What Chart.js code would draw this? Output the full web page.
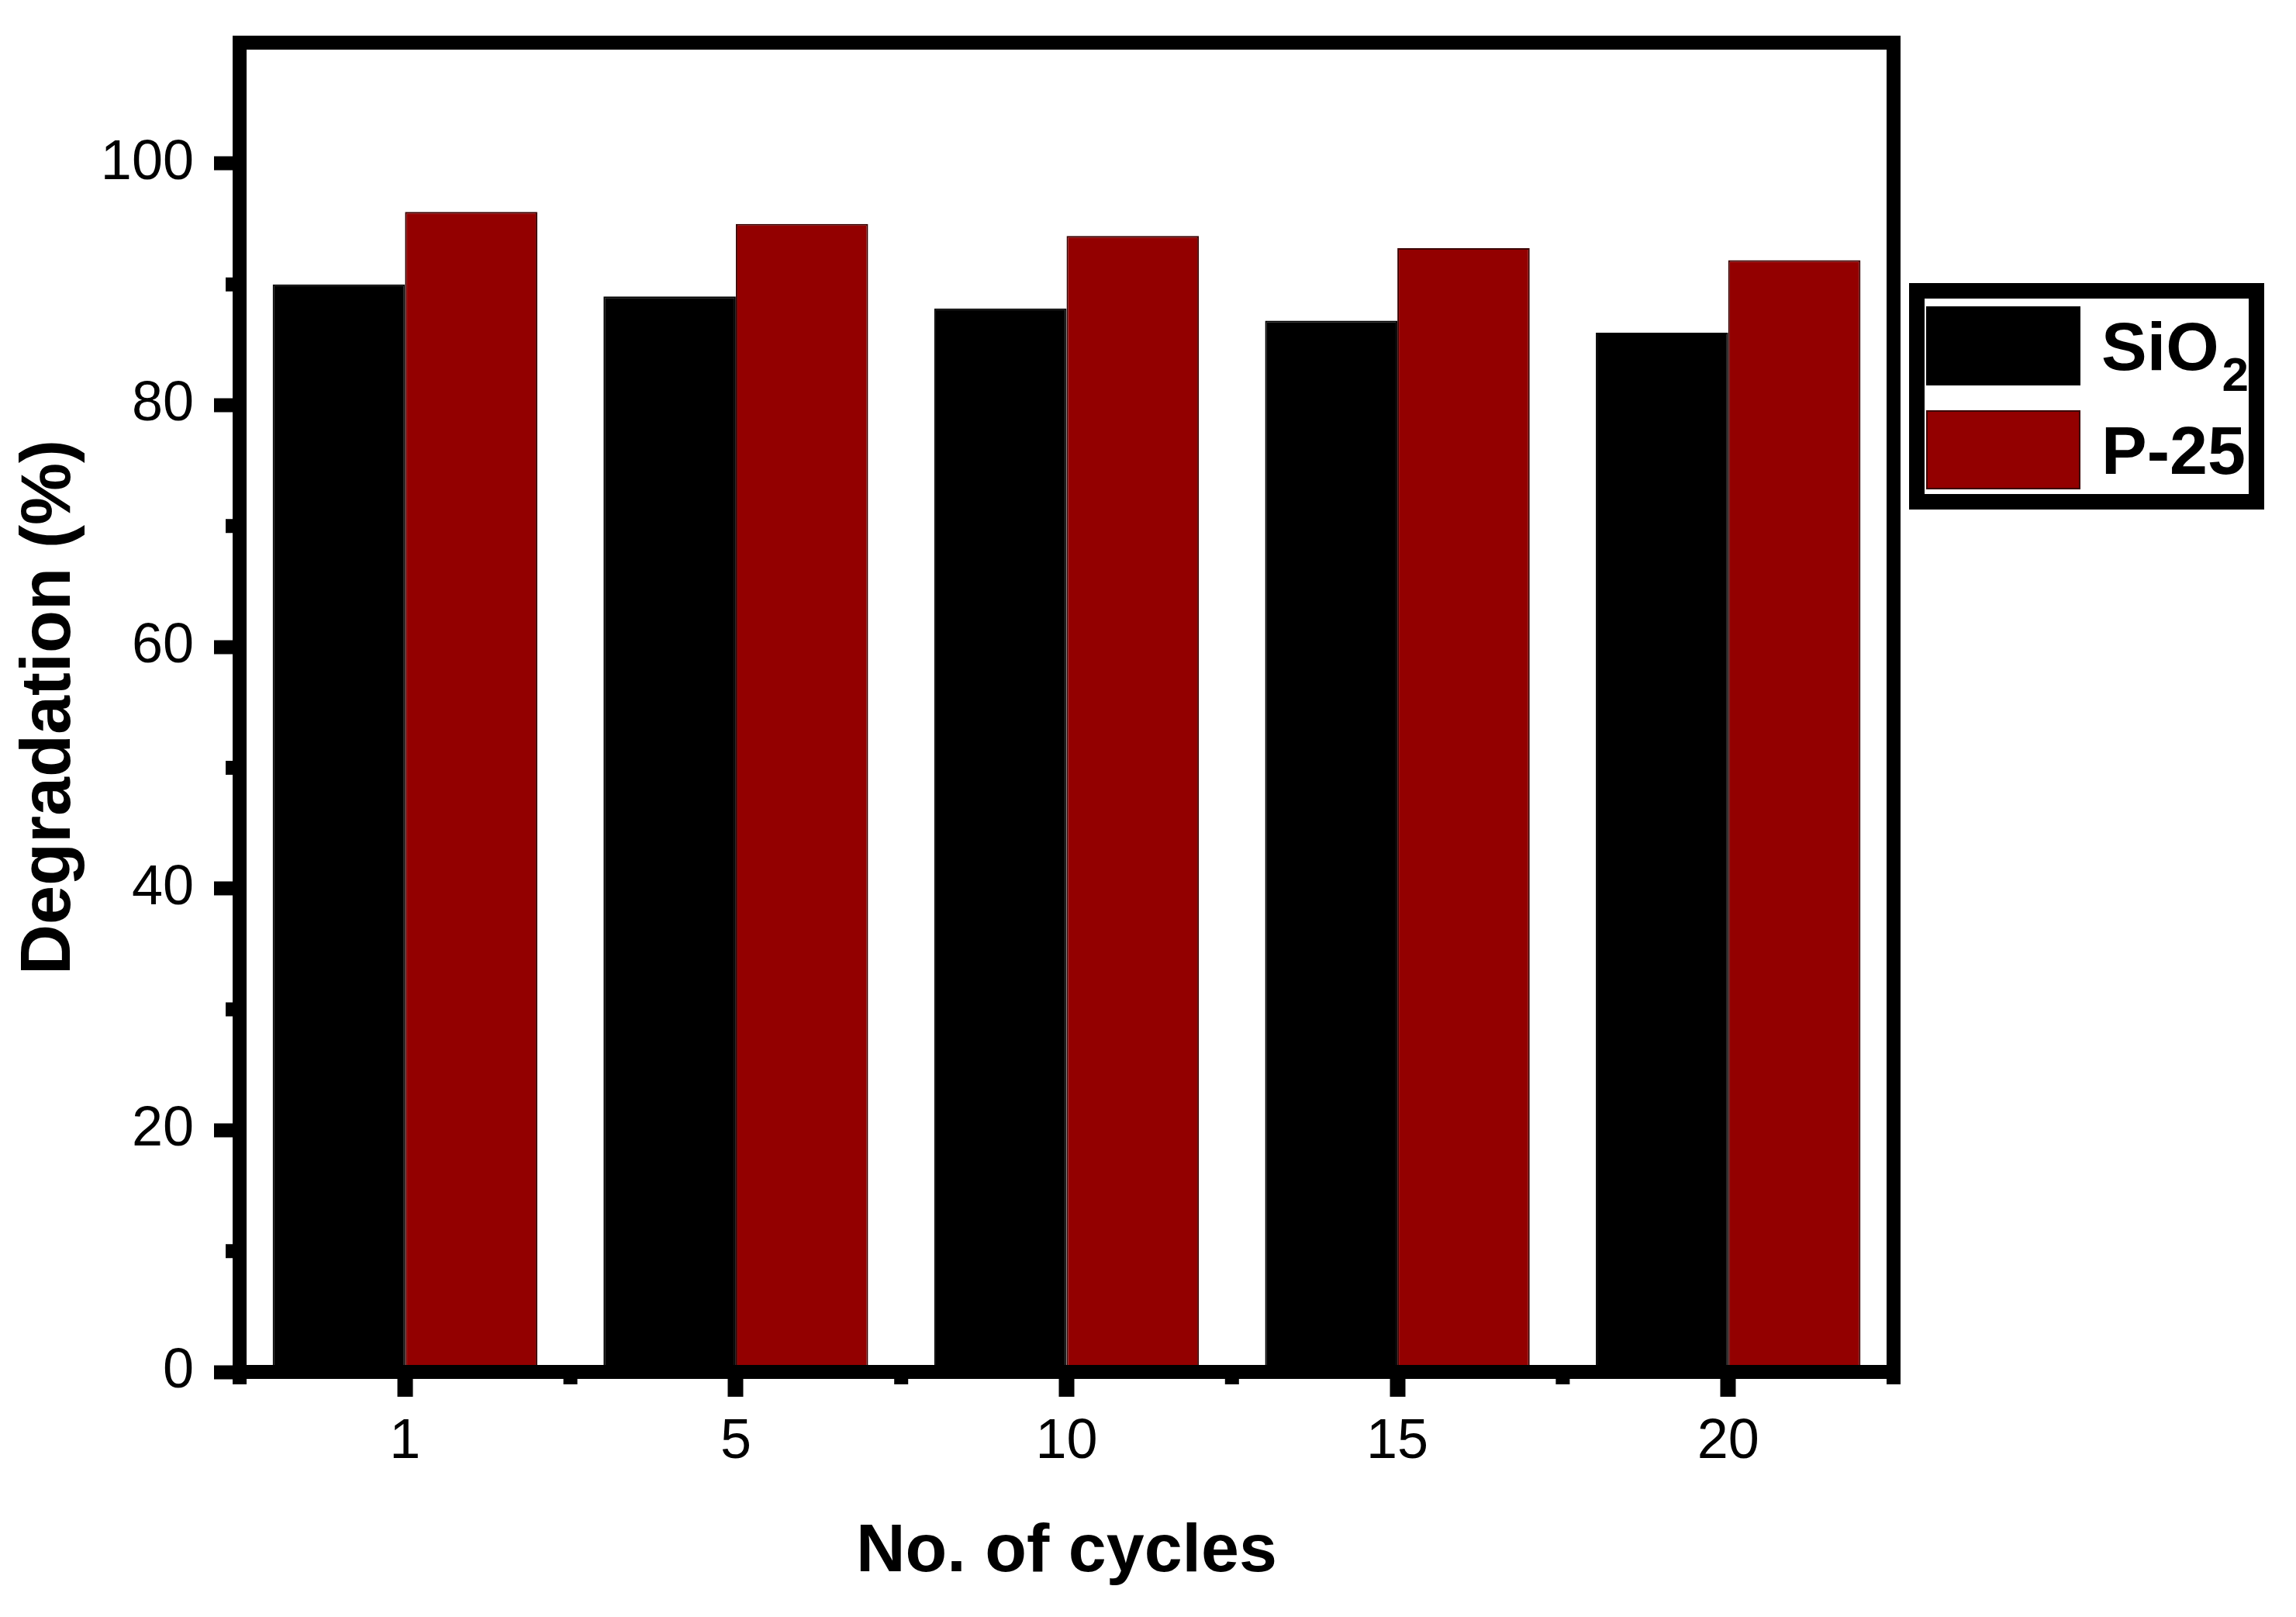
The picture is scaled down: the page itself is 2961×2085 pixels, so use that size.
<!DOCTYPE html>
<html>
<head>
<meta charset="utf-8">
<title>Degradation vs cycles</title>
<script src="https://cdn.jsdelivr.net/npm/chart.js@4.4.1/dist/chart.umd.min.js"></script>
<style>
  html, body { margin: 0; padding: 0; background: #fff; }
  #wrap { width: 2961px; height: 2085px; }
</style>
</head>
<body>
<div id="wrap"><canvas id="chart" width="2961" height="2085"></canvas></div>
<script>
// data
const cycles = ['1', '5', '10', '15', '20'];
const sio2 = [90, 89, 88, 87, 86];
const p25 = [96, 95, 94, 93, 92];
const yMinorTicks = [10, 30, 50, 70, 90];

const FONT = "'Liberation Sans', Arial, sans-serif";
const RED = '#930000';

// minor ticks + closed frame
const framePlugin = {
  id: 'frame',
  afterDraw(chart) {
    const ctx = chart.ctx;
    const a = chart.chartArea;
    const x = chart.scales.x, y = chart.scales.y;
    ctx.save();
    ctx.strokeStyle = '#000';
    ctx.lineWidth = 18;
    ctx.lineJoin = 'miter';
    ctx.strokeRect(a.left, a.top, a.right - a.left, a.bottom - a.top);

    ctx.beginPath();
    yMinorTicks.forEach(v => {
      const py = y.getPixelForValue(v);
      ctx.moveTo(a.left - 18, py);
      ctx.lineTo(a.left, py);
    });
    for (let i = 0; i <= cycles.length; i++) {
      const px = x.getPixelForValue(i - 0.5);
      ctx.moveTo(px, a.bottom);
      ctx.lineTo(px, a.bottom + 16);
    }
    ctx.stroke();
    ctx.restore();
  }
};

// boxed legend on the right, with subscript digits
const legendPlugin = {
  id: 'boxLegend',
  afterDraw(chart) {
    const ctx = chart.ctx;
    const a = chart.chartArea;
    const bx = a.right + 20, by = a.top + 310;
    ctx.save();
    ctx.strokeStyle = '#000';
    ctx.lineWidth = 20;
    ctx.strokeRect(bx + 10, by + 10, 438, 272);

    const rows = [by + 30, by + 164];
    chart.data.datasets.forEach((ds, i) => {
      const top = rows[i];
      ctx.fillStyle = ds.backgroundColor;
      ctx.fillRect(bx + 22, top, 199, 102);
      ctx.strokeStyle = ds.borderColor;
      ctx.lineWidth = 2;
      ctx.strokeRect(bx + 23, top + 1, 197, 100);

      ctx.fillStyle = '#000';
      ctx.textBaseline = 'alphabetic';
      ctx.textAlign = 'left';
      const base = top + 82;
      let tx = bx + 248;
      const parts = ds.label.match(/[\u2080-\u2089]+|[^\u2080-\u2089]+/g);
      parts.forEach(p => {
        if (/[\u2080-\u2089]/.test(p)) {
          const s = p.replace(/[\u2080-\u2089]/g, c => String(c.charCodeAt(0) - 0x2080));
          ctx.font = 'bold 62px ' + FONT;
          ctx.fillText(s, tx + 4, base + 27);
          tx += ctx.measureText(s).width + 4;
        } else {
          ctx.font = 'bold 88px ' + FONT;
          ctx.fillText(p, tx, base);
          tx += ctx.measureText(p).width;
        }
      });
    });
    ctx.restore();
  }
};

new Chart(document.getElementById('chart'), {
  type: 'bar',
  data: {
    labels: cycles,
    datasets: [
      { label: 'SiO\u2082', data: sio2, backgroundColor: '#000000', borderColor: '#000000', borderWidth: 2 },
      { label: 'P-25', data: p25, backgroundColor: RED, borderColor: '#3a0000', borderWidth: 2 }
    ]
  },
  options: {
    responsive: false,
    devicePixelRatio: 1,
    animation: false,
    layout: { padding: { top: 55, right: 519, left: 0, bottom: 0 } },
    datasets: { bar: { categoryPercentage: 0.8, barPercentage: 1.0 } },
    plugins: { legend: { display: false }, tooltip: { enabled: false } },
    scales: {
      x: {
        offset: true,
        grid: { offset: false, drawOnChartArea: false, tickLength: 32, tickWidth: 20, tickColor: '#000' },
        border: { display: true, width: 18, color: '#000' },
        ticks: { color: '#000', padding: 16, font: { family: FONT, size: 72 } },
        title: { display: true, text: 'No. of cycles', color: '#000', padding: { top: 0, bottom: 30 },
                 font: { family: FONT, size: 88, weight: 'bold' } },
        afterFit(scale) { scale.height = 316; scale.paddingLeft = 0; scale.paddingRight = 0; }
      },
      y: {
        min: 0,
        max: 110,
        grid: { drawOnChartArea: false, tickLength: 33, tickWidth: 18, tickColor: '#000' },
        border: { display: true, width: 18, color: '#000' },
        ticks: { stepSize: 20, includeBounds: false, color: '#000', padding: 26, font: { family: FONT, size: 72 } },
        title: { display: true, text: 'Degradation (%)', color: '#000', padding: { top: 11, bottom: 0 },
                 font: { family: FONT, size: 90, weight: 'bold' } },
        afterFit(scale) { scale.width = 309; scale.paddingTop = 0; scale.paddingBottom = 0; }
      }
    }
  },
  plugins: [framePlugin, legendPlugin]
});
</script>
</body>
</html>
